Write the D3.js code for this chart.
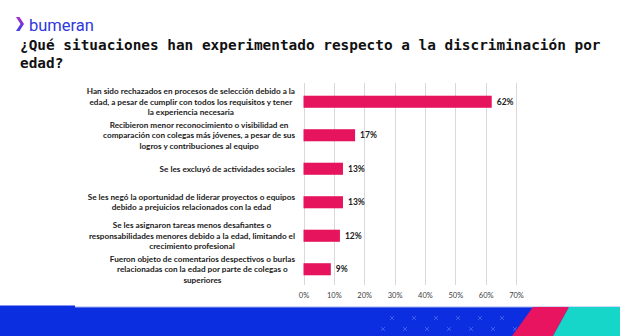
<!DOCTYPE html>
<html>
<head>
<meta charset="utf-8">
<script src="https://cdn.jsdelivr.net/npm/d3@7"></script>
<style>
  html, body { margin: 0; padding: 0; background: #fff; }
  svg { display: block; }
</style>
</head>
<body>
<div class="chart"></div>
<script>
// datos
var categories = [
    ['Han sido rechazados en procesos de selección debido a la', 'edad, a pesar de cumplir con todos los requisitos y tener', 'la experiencia necesaria'],
    ['Recibieron menor reconocimiento o visibilidad en', 'comparación con colegas más jóvenes, a pesar de sus', 'logros y contribuciones al equipo'],
    ['Se les excluyó de actividades sociales'],
    ['Se les negó la oportunidad de liderar proyectos o equipos', 'debido a prejuicios relacionados con la edad'],
    ['Se les asignaron tareas menos desafiantes o', 'responsabilidades menores debido a la edad, limitando el', 'crecimiento profesional'],
    ['Fueron objeto de comentarios despectivos o burlas', 'relacionadas con la edad por parte de colegas o', 'superiores']
];
var values = [0.62, 0.17, 0.13, 0.13, 0.12, 0.09];
var xTicks = [0, 0.1, 0.2, 0.3, 0.4, 0.5, 0.6, 0.7];
var titleLines = ['¿Qué situaciones han experimentado respecto a la discriminación por', 'edad?'];

var svgWidth = 620, svgHeight = 336;
var plotLeft = 303.5, plotRight = 516,
    plotTop = 85, plotBottom = 286;
var labelRight = 295;

var barColor = '#e6135d';

var svg = d3.select('.chart')
    .append('svg')
    .attr('width', svgWidth)
    .attr('height', svgHeight);

// logo
var logo = svg.append('g').classed('logo', true);
var grad = svg.append('defs').append('linearGradient')
    .attr('id', 'chev')
    .attr('x1', 0).attr('y1', 0).attr('x2', 0).attr('y2', 1);
grad.append('stop').attr('offset', '0%').attr('stop-color', '#b02ad0');
grad.append('stop').attr('offset', '100%').attr('stop-color', '#3a3fe6');
logo.append('path')
    .attr('d', 'M16,17 L19.5,17 L24,24 L19.5,31 L16,31 L20.5,24 Z')
    .attr('fill', 'url(#chev)');
logo.append('text')
    .attr('x', 29)
    .attr('y', 31)
    .attr('font-family', 'Roboto, sans-serif')
    .attr('font-size', 16.5)
    .attr('fill', '#2e38dc')
    .text('bumeran');

// titulo
svg.append('g')
    .classed('title', true)
    .selectAll('text')
    .data(titleLines)
    .enter()
    .append('text')
    .attr('x', 20)
    .attr('y', function(d, i) { return 50 + i * 18; })
    .attr('font-family', '"DejaVu Sans Mono", monospace')
    .attr('font-weight', 'bold')
    .attr('font-size', 14.4)
    .attr('fill', '#111')
    .text(function(d) { return d; });

// escalas
var xScale = d3.scaleLinear()
    .domain([0, 0.7])
    .range([plotLeft, plotRight]);

var yScale = d3.scaleBand()
    .domain(d3.range(values.length))
    .range([plotTop, plotBottom])
    .paddingInner(0.64)
    .paddingOuter(0.32);

// lineas de division
svg.append('g')
    .classed('grid', true)
    .selectAll('line')
    .data(xTicks)
    .enter()
    .append('line')
    .attr('x1', function(d) { return Math.round(xScale(d)) + 0.5; })
    .attr('x2', function(d) { return Math.round(xScale(d)) + 0.5; })
    .attr('y1', 83)
    .attr('y2', 285)
    .style('stroke', '#d9d9d9')
    .style('stroke-width', 1);

// eje x
var xAxis = d3.axisBottom(xScale)
    .tickValues(xTicks)
    .tickFormat(d3.format('.0%'))
    .tickSize(0)
    .tickPadding(7);
var axisG = svg.append('g')
    .classed('xaxis', true)
    .attr('transform', 'translate(0,' + 286 + ')')
    .call(xAxis);
axisG.select('.domain').remove();
axisG.selectAll('text')
    .attr('font-family', 'Lato, sans-serif')
    .attr('font-size', 7.5)
    .attr('fill', '#404040');

// barras
svg.append('g')
    .classed('bars', true)
    .selectAll('rect')
    .data(values)
    .enter()
    .append('rect')
    .attr('x', xScale(0))
    .attr('y', function(d, i) { return yScale(i); })
    .attr('width', function(d) { return xScale(d) - xScale(0); })
    .attr('height', yScale.bandwidth())
    .style('fill', barColor);

// etiquetas de valor
svg.append('g')
    .classed('value-labels', true)
    .selectAll('text')
    .data(values)
    .enter()
    .append('text')
    .attr('x', function(d) { return xScale(d) + 5; })
    .attr('y', function(d, i) { return yScale(i) + yScale.bandwidth() / 2; })
    .attr('dy', '0.35em')
    .attr('font-family', 'Lato, sans-serif')
    .attr('font-weight', 'bold')
    .attr('font-size', 8.5)
    .attr('fill', '#222')
    .text(function(d) { return Math.round(d * 100) + '%'; });

// etiquetas de categoria (bloque alineado a la derecha, lineas centradas)
var lineH = 10.4;
var catG = svg.append('g').classed('cat-labels', true);
categories.forEach(function(lines, i) {
    var cy = yScale(i) + yScale.bandwidth() / 2;
    var g = catG.append('g');
    var texts = g.selectAll('text')
        .data(lines)
        .enter()
        .append('text')
        .attr('y', function(d, j) { return cy + (j - (lines.length - 1) / 2) * lineH; })
        .attr('dy', '0.35em')
        .attr('text-anchor', 'middle')
        .attr('font-family', 'Lato, sans-serif')
        .attr('font-weight', 'bold')
        .attr('font-size', 8.2)
        .attr('fill', '#1a1a1a')
        .text(function(d) { return d; });
    var maxW = 0;
    texts.each(function() { maxW = Math.max(maxW, this.getComputedTextLength()); });
    texts.attr('x', labelRight - maxW / 2);
});

// franja inferior
var footer = svg.append('g').classed('footer', true);
footer.append('rect')
    .attr('x', 0).attr('y', 307)
    .attr('width', svgWidth).attr('height', svgHeight - 307)
    .style('fill', '#0b2ee0');
footer.append('rect')
    .attr('x', 0).attr('y', 305.5)
    .attr('width', 75).attr('height', 2)
    .style('fill', '#0b2ee0');
footer.append('line')
    .attr('x1', 75).attr('x2', svgWidth)
    .attr('y1', 307).attr('y2', 307)
    .style('stroke', '#9fb0f0')
    .style('stroke-width', 1);

// marcas x decorativas
var marks = [];
for (var r = 0; r < 3; r++) {
    for (var c = 0; c < 7; c++) {
        var mx = 392 + c * 22 - r * 9;
        var my = 318 + r * 11;
        if (mx < 520 - r * 4) marks.push([mx, my]);
    }
}
footer.selectAll('path.mark')
    .data(marks)
    .enter()
    .append('path')
    .classed('mark', true)
    .attr('d', function(d) {
        return 'M' + (d[0] - 2) + ',' + (d[1] - 2) + 'L' + (d[0] + 2) + ',' + (d[1] + 2) +
            'M' + (d[0] + 2) + ',' + (d[1] - 2) + 'L' + (d[0] - 2) + ',' + (d[1] + 2);
    })
    .style('stroke', '#3d5be9')
    .style('stroke-width', 1);

footer.append('path')
    .attr('d', 'M533,307 L569,307 L553,336 L512,336 Z')
    .style('fill', '#e8145f');
footer.append('path')
    .attr('d', 'M569,307 L620,307 L620,336 L553,336 Z')
    .style('fill', '#16d6c9');
</script>
</body>
</html>
